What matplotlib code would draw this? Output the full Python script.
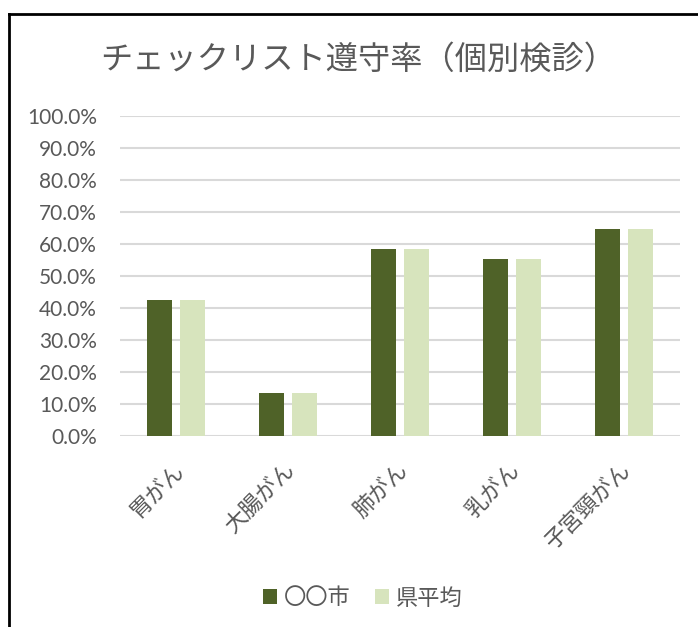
import matplotlib
matplotlib.use("Agg")
import matplotlib.pyplot as plt
from matplotlib.lines import Line2D
from matplotlib.ticker import PercentFormatter
from matplotlib.transforms import ScaledTranslation
import numpy as np

plt.rcParams['font.family'] = ['Noto Sans CJK JP', 'DejaVu Sans']

title = "チェックリスト遵守率（個別検診）"
categories = ["胃がん", "大腸がん", "肺がん", "乳がん", "子宮頸がん"]
series_names = ["〇〇市", "県平均"]
city_values = [42.5, 13.4, 58.3, 55.3, 64.7]
pref_values = [42.5, 13.4, 58.3, 55.3, 64.7]
yticks = [0, 10, 20, 30, 40, 50, 60, 70, 80, 90, 100]

dark = "#4F6228"
light = "#D7E4BD"
text_color = "#595959"
grid_color = "#D9D9D9"

W, H = 698, 627
fig = plt.figure(figsize=(W / 100, H / 100), dpi=100)
ax = fig.add_axes([120 / W, 1 - 436 / H, 560 / W, 320 / H])

x = np.arange(len(categories))
bw = 0.223
off = 0.143
ax.bar(x - off, city_values, width=bw, color=dark, label=series_names[0], zorder=3)
ax.bar(x + off, pref_values, width=bw, color=light, label=series_names[1], zorder=3)

ax.set_xlim(-0.5, len(categories) - 0.5)
ax.set_ylim(0, 100)
ax.set_yticks(yticks)
ax.yaxis.set_major_formatter(PercentFormatter(decimals=1))
for s in ax.spines.values():
    s.set_visible(False)
ax.grid(axis='y', color=grid_color, linewidth=1.5, zorder=0)
ax.tick_params(axis='both', length=0)
ax.tick_params(axis='y', pad=16.5, labelsize=15, labelcolor=text_color)
for lbl in ax.get_yticklabels():
    lbl.set_family(['Lato', 'DejaVu Sans'])

ax.set_xticks(x)
ax.set_xticklabels(categories, rotation=45, ha='right', va='center',
                   rotation_mode='anchor', fontsize=16, color=text_color)
ax.tick_params(axis='x', pad=22)
shift = ScaledTranslation(4 / 100, 0, fig.dpi_scale_trans)
for lbl in ax.get_xticklabels():
    lbl.set_transform(lbl.get_transform() + shift)

fig.text(358 / W, 1 - 60 / H, title, ha='center', va='center',
         fontsize=23.2, color=text_color)

leg = fig.legend(loc='center', bbox_to_anchor=(362.5 / W, 1 - 598 / H), ncol=2,
                 frameon=False, fontsize=16, handlelength=0.64, handleheight=0.64,
                 handletextpad=0.3, columnspacing=1.1)
for t in leg.get_texts():
    t.set_color(text_color)

fig.add_artist(Line2D([8.5 / W, 1], [1 - 14 / H, 1 - 14 / H], color='black',
                      linewidth=2, transform=fig.transFigure))
fig.add_artist(Line2D([8.5 / W, 8.5 / W], [0, 1 - 14 / H], color='black',
                      linewidth=2, transform=fig.transFigure))

fig.savefig("out.png", dpi=100)
